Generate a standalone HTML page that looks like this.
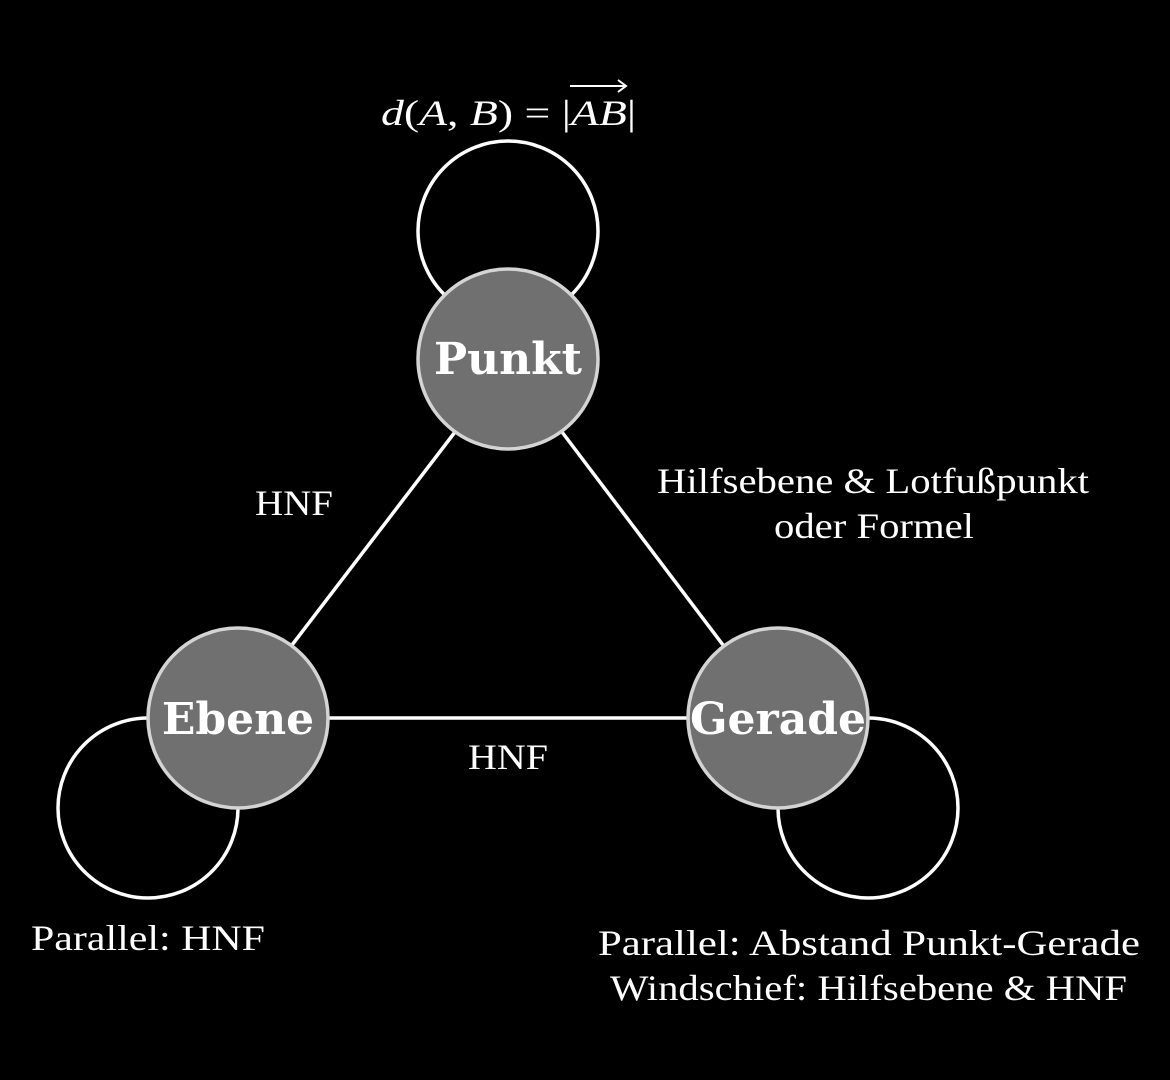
<!DOCTYPE html>
<html><head><meta charset="utf-8"><style>
html,body{margin:0;padding:0;background:#000;}
svg{display:block;}
</style></head><body>
<svg width="1170" height="1080" viewBox="0 0 1170 1080" xmlns="http://www.w3.org/2000/svg">
<rect width="1170" height="1080" fill="#000"/>
<g fill="none" stroke="#fff" stroke-width="3.5">
<circle cx="508" cy="231" r="90"/>
<circle cx="148" cy="808" r="90"/>
<circle cx="868" cy="808" r="90"/>
<line x1="455" y1="432" x2="292" y2="645"/>
<line x1="562" y1="432" x2="723" y2="645"/>
<line x1="328" y1="718" x2="688" y2="718"/>
</g>
<g fill="#707070" stroke="#d4d4d4" stroke-width="3.5">
<circle cx="508" cy="359" r="90"/>
<circle cx="238" cy="718" r="90"/>
<circle cx="778" cy="718" r="90"/>
</g>
<g font-family="'DejaVu Serif',serif" font-weight="bold" font-size="44" fill="#fff" text-anchor="middle">
<text x="508" y="374">Punkt</text>
<text x="238" y="734">Ebene</text>
<text x="778" y="734">Gerade</text>
</g>
<g font-family="'Liberation Serif',serif" font-size="36" fill="#fff" lengthAdjust="spacingAndGlyphs">
<text x="381" y="125" textLength="255" lengthAdjust="spacingAndGlyphs"><tspan font-style="italic">d</tspan>(<tspan font-style="italic">A</tspan>, <tspan font-style="italic">B</tspan>) = |<tspan font-style="italic">AB</tspan>|</text>
<text x="255" y="515" textLength="78" lengthAdjust="spacingAndGlyphs">HNF</text>
<text x="657" y="493" textLength="432" lengthAdjust="spacingAndGlyphs">Hilfsebene &amp; Lotfußpunkt</text>
<text x="774" y="538" textLength="200" lengthAdjust="spacingAndGlyphs">oder Formel</text>
<text x="468" y="769" textLength="80" lengthAdjust="spacingAndGlyphs">HNF</text>
<text x="31" y="950" textLength="234" lengthAdjust="spacingAndGlyphs">Parallel: HNF</text>
<text x="598" y="955" textLength="542" lengthAdjust="spacingAndGlyphs">Parallel: Abstand Punkt-Gerade</text>
<text x="610" y="1000" textLength="517" lengthAdjust="spacingAndGlyphs">Windschief: Hilfsebene &amp; HNF</text>
</g>
<g stroke="#fff" stroke-width="2" fill="none">
<line x1="570" y1="86" x2="626" y2="86"/>
<polyline points="618,80 626,86 618,92"/>
</g>
</svg>
</body></html>
